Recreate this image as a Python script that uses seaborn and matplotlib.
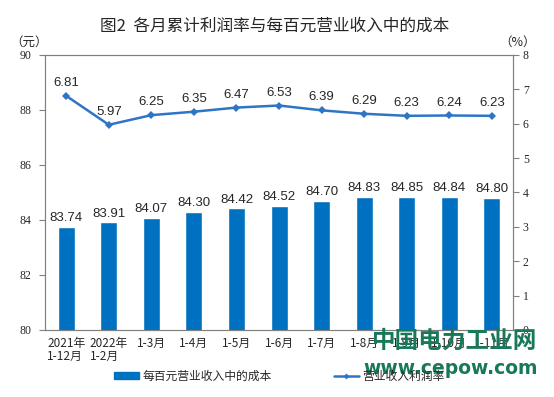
import seaborn as sns
import pandas as pd
import numpy as np
import matplotlib.pyplot as plt
from matplotlib.patches import Patch
from matplotlib.lines import Line2D

# data
periods = ["2021年\n1-12月", "2022年\n1-2月", "1-3月", "1-4月", "1-5月", "1-6月",
           "1-7月", "1-8月", "1-9月", "1-10月", "1-11月"]
cost_per_100 = [83.74, 83.91, 84.07, 84.30, 84.42, 84.52, 84.70, 84.83, 84.85, 84.84, 84.80]
profit_rate = [6.81, 5.97, 6.25, 6.35, 6.47, 6.53, 6.39, 6.29, 6.23, 6.24, 6.23]

bar_color = "#0070C0"
line_color = "#2E75C6"
mark_color = "#17785A"

sns.set_style("white")
plt.rcParams['font.family'] = ['Liberation Sans', 'Noto Sans CJK SC', 'DejaVu Sans']

df = pd.DataFrame({"period": periods, "cost": cost_per_100, "rate": profit_rate})

fig = plt.figure(figsize=(5.54, 3.97), dpi=100)
ax = fig.add_axes([0.0812, 0.1688, 0.845, 0.6927])

# bars: cost per 100 yuan revenue
sns.barplot(data=df, x="period", y="cost", color=bar_color, width=0.4,
            saturation=1, ax=ax)
ax.set_ylim(80, 90)
ax.set_yticks(np.arange(80, 91, 2))
ax.set_xlim(-0.5, len(periods) - 0.5)
ax.set_xlabel("")
ax.set_ylabel("")
for i, v in enumerate(cost_per_100):
    ax.text(i, v + 0.1, f"{v:.2f}", ha="center", va="bottom", fontsize=9.5)

# line: profit rate on the right axis
ax2 = ax.twinx()
sns.lineplot(x=np.arange(len(periods)), y=profit_rate, ax=ax2, color=line_color,
             linewidth=1.8, marker="D", markersize=4, markeredgewidth=0)
ax2.set_ylim(0, 8)
ax2.set_yticks(np.arange(0, 9, 1))
ax2.set_ylabel("")
for i, v in enumerate(profit_rate):
    ax2.text(i, v + 0.2, f"{v:.2f}", ha="center", va="bottom", fontsize=9.5)

# ticks and spines
ax.set_xticks(np.arange(len(periods)))
ax.set_xticklabels(periods, fontsize=8.5, family="Noto Sans CJK SC",
                   multialignment="left", linespacing=1.05)
ax.tick_params(axis="x", length=0, pad=5)
ax.set_xticks(np.arange(len(periods) + 1) - 0.5, minor=True)
ax.tick_params(axis="x", which="minor", length=4, color="#808080", width=0.8)
ax.tick_params(axis="y", length=4, color="#808080", width=0.8, labelsize=8.5, pad=6)
ax2.tick_params(axis="y", length=4, color="#808080", width=0.8, labelsize=8.5, pad=3)
for lab in ax.get_yticklabels() + ax2.get_yticklabels():
    lab.set_family("Liberation Serif")
for a in (ax, ax2):
    for s in a.spines.values():
        s.set_color("#808080")
        s.set_linewidth(0.8)

# title and unit labels
fig.text(0.495, 0.935, "图2  各月累计利润率与每百元营业收入中的成本", ha="center", va="center",
         fontsize=12, family=["Noto Sans CJK SC"])
fig.text(0.018, 0.893, "（元）", ha="left", va="center", fontsize=9,
         family=["Noto Sans CJK SC"])
fig.text(0.968, 0.893, "（%）", ha="right", va="center", fontsize=9,
         family=["Noto Sans CJK SC"])

# legend
handles = [Patch(color=bar_color, label="每百元营业收入中的成本"),
           Line2D([0], [0], color=line_color, lw=1.8, marker="D", markersize=3,
                  markeredgewidth=0, label="营业收入利润率")]
fig.legend(handles=handles, loc="center left", bbox_to_anchor=(0.195, 0.052), ncol=2,
           frameon=False, handlelength=2.1, handleheight=0.5, handletextpad=0.3,
           columnspacing=5.3, borderpad=0,
           prop={"family": "Noto Sans CJK SC", "size": 8.5})

# watermark
fig.text(0.821, 0.141, "中国电力工业网", ha="center", va="center", fontsize=17,
         color=mark_color, weight="bold", family=["Noto Sans CJK SC"])
fig.text(0.813, 0.073, "www.cepow.com", ha="center", va="center", fontsize=13.5,
         color=mark_color, weight="bold", family=["DejaVu Sans"])

fig.savefig("out.png", dpi=100)
